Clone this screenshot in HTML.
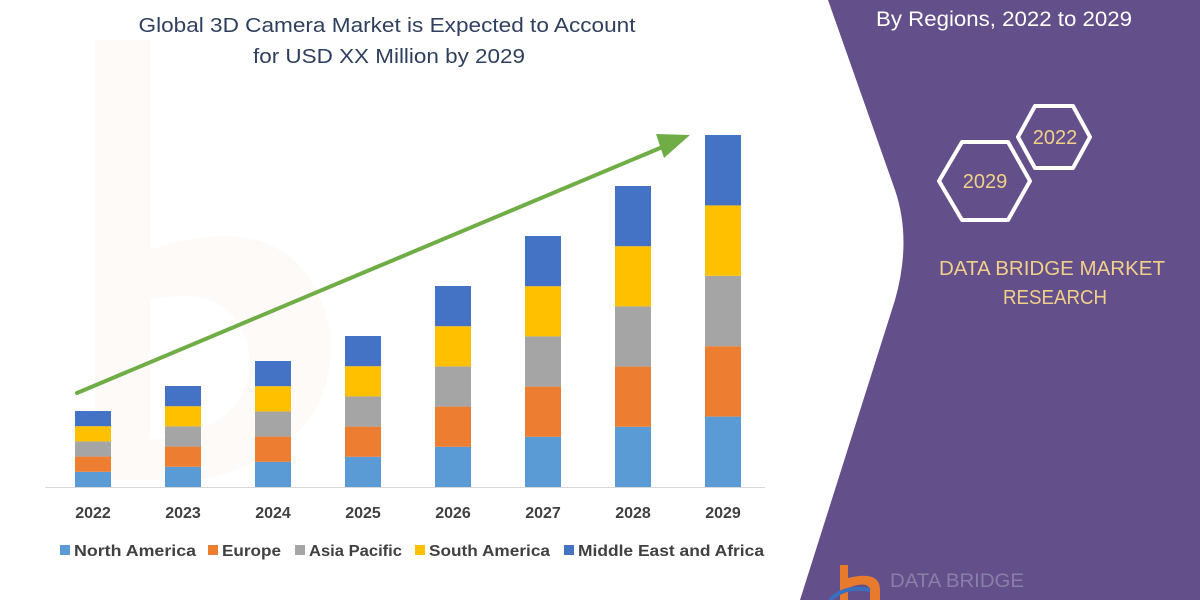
<!DOCTYPE html>
<html><head><meta charset="utf-8"><style>
html,body{margin:0;padding:0;background:#fff;}
svg{display:block;font-family:"Liberation Sans",sans-serif;}
</style></head><body>
<svg width="1200" height="600" viewBox="0 0 1200 600" xmlns="http://www.w3.org/2000/svg">
<rect width="1200" height="600" fill="#fff"/>
<path d="M95 40 L150 40 L150 250 Q300 200 330 330 Q340 450 200 480 L95 480 Z" fill="#fefaf7"/>
<path d="M150 300 Q240 280 250 360 Q250 430 150 440 Z" fill="#fff"/>
<path d="M828 0 L1200 0 L1200 600 L800 600 L895 300 Q912 240 895 190 Z" fill="#634f8a"/>
<text x="387" y="32" font-size="20" fill="#2f3f5f" text-anchor="middle" textLength="497" lengthAdjust="spacingAndGlyphs">Global 3D Camera Market is Expected to Account</text>
<text x="389" y="63" font-size="20" fill="#2f3f5f" text-anchor="middle" textLength="272" lengthAdjust="spacingAndGlyphs">for USD XX Million by 2029</text>
<text x="1004" y="26" font-size="21" fill="#ffffff" text-anchor="middle" textLength="256" lengthAdjust="spacingAndGlyphs">By Regions, 2022 to 2029</text>
<line x1="45" y1="487.5" x2="765" y2="487.5" stroke="#d9d9d9" stroke-width="1"/>
<g>
<rect x="75" y="471.8" width="36" height="15.2" fill="#5b9bd5"/><rect x="75" y="456.6" width="36" height="15.2" fill="#ed7d31"/><rect x="75" y="441.4" width="36" height="15.2" fill="#a5a5a5"/><rect x="75" y="426.2" width="36" height="15.2" fill="#ffc000"/><rect x="75" y="411" width="36" height="15.2" fill="#4472c4"/>
<rect x="165" y="466.8" width="36" height="20.2" fill="#5b9bd5"/><rect x="165" y="446.6" width="36" height="20.2" fill="#ed7d31"/><rect x="165" y="426.4" width="36" height="20.2" fill="#a5a5a5"/><rect x="165" y="406.2" width="36" height="20.2" fill="#ffc000"/><rect x="165" y="386" width="36" height="20.2" fill="#4472c4"/>
<rect x="255" y="461.8" width="36" height="25.2" fill="#5b9bd5"/><rect x="255" y="436.6" width="36" height="25.2" fill="#ed7d31"/><rect x="255" y="411.4" width="36" height="25.2" fill="#a5a5a5"/><rect x="255" y="386.2" width="36" height="25.2" fill="#ffc000"/><rect x="255" y="361" width="36" height="25.2" fill="#4472c4"/>
<rect x="345" y="456.8" width="36" height="30.2" fill="#5b9bd5"/><rect x="345" y="426.6" width="36" height="30.2" fill="#ed7d31"/><rect x="345" y="396.4" width="36" height="30.2" fill="#a5a5a5"/><rect x="345" y="366.2" width="36" height="30.2" fill="#ffc000"/><rect x="345" y="336" width="36" height="30.2" fill="#4472c4"/>
<rect x="435" y="446.8" width="36" height="40.2" fill="#5b9bd5"/><rect x="435" y="406.6" width="36" height="40.2" fill="#ed7d31"/><rect x="435" y="366.4" width="36" height="40.2" fill="#a5a5a5"/><rect x="435" y="326.2" width="36" height="40.2" fill="#ffc000"/><rect x="435" y="286" width="36" height="40.2" fill="#4472c4"/>
<rect x="525" y="436.8" width="36" height="50.2" fill="#5b9bd5"/><rect x="525" y="386.6" width="36" height="50.2" fill="#ed7d31"/><rect x="525" y="336.4" width="36" height="50.2" fill="#a5a5a5"/><rect x="525" y="286.2" width="36" height="50.2" fill="#ffc000"/><rect x="525" y="236" width="36" height="50.2" fill="#4472c4"/>
<rect x="615" y="426.8" width="36" height="60.2" fill="#5b9bd5"/><rect x="615" y="366.6" width="36" height="60.2" fill="#ed7d31"/><rect x="615" y="306.4" width="36" height="60.2" fill="#a5a5a5"/><rect x="615" y="246.2" width="36" height="60.2" fill="#ffc000"/><rect x="615" y="186" width="36" height="60.2" fill="#4472c4"/>
<rect x="705" y="416.6" width="36" height="70.4" fill="#5b9bd5"/><rect x="705" y="346.2" width="36" height="70.4" fill="#ed7d31"/><rect x="705" y="275.8" width="36" height="70.4" fill="#a5a5a5"/><rect x="705" y="205.4" width="36" height="70.4" fill="#ffc000"/><rect x="705" y="135" width="36" height="70.4" fill="#4472c4"/>
</g>
<line x1="77" y1="393" x2="672" y2="143" stroke="#70ad47" stroke-width="4" stroke-linecap="round"/>
<polygon points="690,135 664,158 656,134" fill="#70ad47"/>
<g font-size="16" font-weight="bold" fill="#404040" text-anchor="middle">
<text x="93" y="518">2022</text><text x="183" y="518">2023</text><text x="273" y="518">2024</text><text x="363" y="518">2025</text>
<text x="453" y="518">2026</text><text x="543" y="518">2027</text><text x="633" y="518">2028</text><text x="723" y="518">2029</text>
</g>
<g font-size="16" font-weight="bold" fill="#404040">
<rect x="60" y="545" width="10" height="10" fill="#5b9bd5"/><text x="74" y="556" textLength="122" lengthAdjust="spacingAndGlyphs">North America</text>
<rect x="208" y="545" width="10" height="10" fill="#ed7d31"/><text x="222" y="556" textLength="59" lengthAdjust="spacingAndGlyphs">Europe</text>
<rect x="295" y="545" width="10" height="10" fill="#a5a5a5"/><text x="309" y="556" textLength="93" lengthAdjust="spacingAndGlyphs">Asia Pacific</text>
<rect x="415" y="545" width="10" height="10" fill="#ffc000"/><text x="429" y="556" textLength="121" lengthAdjust="spacingAndGlyphs">South America</text>
<rect x="564" y="545" width="10" height="10" fill="#4472c4"/><text x="578" y="556" textLength="186" lengthAdjust="spacingAndGlyphs">Middle East and Africa</text>
</g>
<polygon points="1035,106 1073,106 1090,137 1073,168 1035,168 1018,137" fill="none" stroke="#fff" stroke-width="4" stroke-linejoin="round"/>
<polygon points="962,142 1008,142 1030,181 1008,220 962,220 939,181" fill="none" stroke="#fff" stroke-width="4" stroke-linejoin="round"/>
<text x="1055" y="144" font-size="20" fill="#f2d08a" text-anchor="middle">2022</text>
<text x="985" y="188" font-size="20" fill="#f2d08a" text-anchor="middle">2029</text>
<text x="1052" y="275" font-size="20" fill="#f2d08a" text-anchor="middle" textLength="226" lengthAdjust="spacingAndGlyphs">DATA BRIDGE MARKET</text>
<text x="1055" y="304" font-size="20" fill="#f2d08a" text-anchor="middle" textLength="104" lengthAdjust="spacingAndGlyphs">RESEARCH</text>
<path d="M840 565 L848 565 L848 578 Q880 570 880 590 L880 600 L870 600 L870 590 Q868 580 848 588 L848 600 L840 600 Z" fill="#e87a2e"/>
<path d="M830 600 Q845 585 870 590" fill="none" stroke="#3a6fc0" stroke-width="4"/>
<text x="890" y="587" font-size="19" fill="#8a7fa8" textLength="134" lengthAdjust="spacingAndGlyphs">DATA BRIDGE</text>
</svg>
</body></html>
